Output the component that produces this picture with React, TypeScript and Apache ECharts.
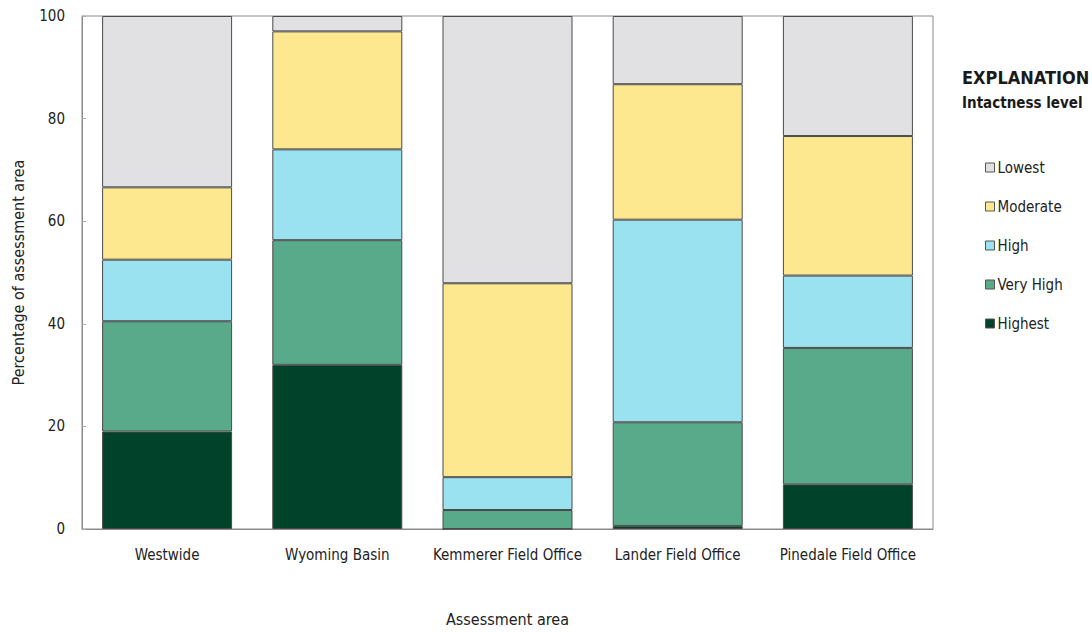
import React, { useEffect, useRef } from "react";
import * as echarts from "echarts";

const categories = ["Westwide", "Wyoming Basin", "Kemmerer Field Office", "Lander Field Office", "Pinedale Field Office"];
const levels = ["Highest", "Very High", "High", "Moderate", "Lowest"];
const highest = [19.0, 32.0, 0.0, 0.6, 8.7];
const veryHigh = [21.5, 24.3, 3.7, 20.2, 26.6];
const high = [12.0, 17.7, 6.4, 39.5, 14.1];
const moderate = [14.1, 23.0, 37.8, 26.4, 27.2];
const lowest = [33.4, 3.0, 52.1, 13.3, 23.4];
const yTicks = [0, 20, 40, 60, 80, 100];
const legendOrder = ["Lowest", "Moderate", "High", "Very High", "Highest"];

const colors: Record<string, string> = {
  Highest: "#00432b",
  "Very High": "#58aa8b",
  High: "#9ae2f0",
  Moderate: "#fde890",
  Lowest: "#e1e1e3",
};

const FONT = "'Liberation Sans Narrow', 'DejaVu Sans Condensed', 'Roboto', sans-serif";

export default function App() {
  const ref = useRef<HTMLDivElement>(null);
  useEffect(() => {
    if (!ref.current) return;
    const chart = echarts.init(ref.current, undefined, { renderer: "svg" });
    const seriesData = [highest, veryHigh, high, moderate, lowest];
    chart.setOption({
      animation: false,
      backgroundColor: "#ffffff",
      textStyle: { fontFamily: FONT },
      grid: {
        left: 82,
        right: 159,
        top: 16,
        bottom: 101,
        show: true,
        borderColor: "#8a8a8a",
        borderWidth: 1,
      },
      graphic: [
        {
          type: "text",
          left: 962,
          top: 68,
          style: { text: "EXPLANATION", font: `bold 18px ${FONT}`, fill: "#1a1a1a" },
        },
        {
          type: "text",
          left: 962,
          top: 95,
          style: { text: "Intactness level", font: `bold 15px ${FONT}`, fill: "#1a1a1a" },
        },
      ],
      legend: {
        orient: "vertical",
        left: 980,
        top: 155,
        itemGap: 24,
        itemWidth: 9,
        itemHeight: 9,
        icon: "rect",
        data: legendOrder.map((n) => ({
          name: n,
          itemStyle: { borderColor: "#555", borderWidth: 1 },
        })),
        textStyle: { fontFamily: FONT, fontSize: 15, color: "#222", padding: [0, 0, 0, -2] },
      },
      xAxis: {
        type: "category",
        data: categories,
        name: "Assessment area",
        nameLocation: "middle",
        nameGap: 82,
        nameTextStyle: { fontFamily: FONT, fontSize: 16, color: "#222" },
        axisLine: { show: true, lineStyle: { color: "#8a8a8a" } },
        axisTick: { show: false },
        axisLabel: { fontFamily: FONT, fontSize: 15, color: "#222", margin: 18, interval: 0 },
      },
      yAxis: {
        type: "value",
        min: 0,
        max: 100,
        interval: 20,
        name: "Percentage of assessment area",
        nameLocation: "middle",
        nameGap: 56,
        nameTextStyle: { fontFamily: FONT, fontSize: 16, color: "#222" },
        axisLine: { show: true, lineStyle: { color: "#8a8a8a" } },
        axisTick: { show: true, inside: true, length: 4, lineStyle: { color: "#aaa" } },
        splitLine: { show: false },
        axisLabel: {
          fontFamily: FONT,
          fontSize: 15,
          color: "#222",
          margin: 17,
          formatter: (v: number) => (yTicks.includes(v) ? String(v) : ""),
        },
      },
      series: levels.map((name, i) => ({
        name,
        type: "bar",
        stack: "total",
        barWidth: 130,
        data: seriesData[i],
        itemStyle: { color: colors[name], borderColor: "#4a4a4a", borderWidth: 1 },
        emphasis: { disabled: true },
      })),
    });
    return () => chart.dispose();
  }, []);
  return (
    <div
      ref={ref}
      style={{ position: "fixed", left: 0, top: 0, width: 1092, height: 632 }}
    />
  );
}
